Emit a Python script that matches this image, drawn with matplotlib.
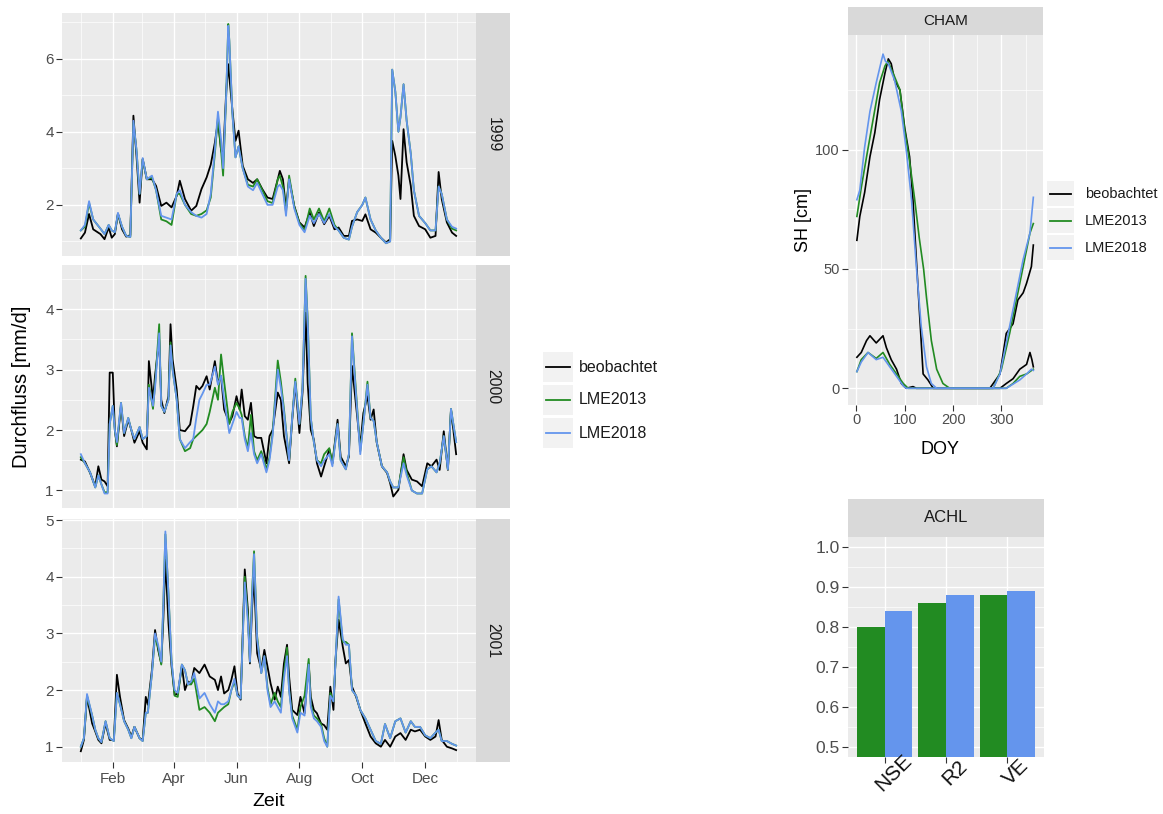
import matplotlib
matplotlib.use('Agg')
import matplotlib.pyplot as plt
from matplotlib.transforms import offset_copy
from matplotlib.patches import Rectangle

plt.rcParams['font.family'] = ['Liberation Sans', 'DejaVu Sans']

# ---------------- data ----------------
series_names = ['beobachtet', 'LME2013', 'LME2018']
series_colors = ['#000000', '#228B22', '#6495ED']

years = ['1999', '2000', '2001']

# day of year (0 = 1 Jan) and daily discharge [mm/d]
days_1999 = [0, 4, 8, 12, 19, 23, 27, 30, 33, 36,
             40, 44, 48, 51, 54, 57, 60, 64, 69, 73,
             78, 83, 88, 93, 96, 101, 107, 112, 117, 122,
             126, 130, 133, 136, 138, 141, 143, 144, 147, 150,
             153, 157, 162, 167, 171, 176, 181, 186, 191, 193,
             196, 199, 202, 207, 212, 217, 222, 226, 231, 236,
             241, 246, 250, 255, 260, 263, 268, 273, 276, 281,
             286, 291, 296, 300, 302, 305, 308, 310, 313, 316,
             320, 323, 328, 334, 339, 344, 347, 350, 355, 360,
             364]
obs_1999 = [1.08, 1.24, 1.75, 1.33, 1.2, 1.06, 1.38, 1.1, 1.2, 1.76,
            1.33, 1.13, 1.17, 4.44, 3.34, 2.06, 3.25, 2.7, 2.7, 2.52,
            1.97, 2.06, 1.93, 2.25, 2.66, 2.16, 1.84, 1.97, 2.43, 2.75,
            3.1, 3.7, 4.3, 3.5, 3.3, 5.1, 5.85, 5.5, 4.6, 3.75,
            4.03, 3.07, 2.7, 2.6, 2.7, 2.43, 2.2, 2.16, 2.7, 2.93,
            2.7, 1.88, 2.7, 1.97, 1.52, 1.38, 1.79, 1.42, 1.79, 1.47,
            1.7, 1.33, 1.38, 1.15, 1.15, 1.56, 1.6, 1.56, 1.74, 1.33,
            1.24, 1.1, 0.97, 1.06, 3.75, 3.34, 2.8, 2.16, 4.07, 3.16,
            2.52, 1.7, 1.42, 1.33, 1.1, 1.15, 2.9, 2.16, 1.52, 1.24,
            1.15]
lme13_1999 = [1.3, 1.4, 2.05, 1.6, 1.35, 1.2, 1.45, 1.3, 1.25, 1.75,
              1.4, 1.15, 1.12, 4.25, 3.5, 2.3, 3.25, 2.7, 2.75, 2.4,
              1.6, 1.55, 1.45, 2.3, 2.3, 2.0, 1.75, 1.7, 1.75, 1.85,
              2.2, 3.4, 4.4, 3.5, 2.8, 5.0, 6.95, 6.5, 4.5, 3.3,
              3.6, 3.0, 2.55, 2.5, 2.7, 2.4, 2.1, 2.05, 2.7, 2.8,
              2.5, 1.8, 2.8, 1.95, 1.5, 1.3, 1.9, 1.6, 1.9, 1.55,
              1.9, 1.45, 1.3, 1.1, 1.05, 1.4, 1.8, 2.0, 2.2, 1.6,
              1.3, 1.1, 0.95, 1.0, 5.7, 5.1, 4.0, 4.4, 5.3, 4.3,
              3.4, 2.4, 1.7, 1.5, 1.3, 1.3, 2.5, 2.3, 1.6, 1.35,
              1.3]
lme18_1999 = [1.3, 1.45, 2.1, 1.6, 1.35, 1.2, 1.45, 1.3, 1.25, 1.78,
              1.4, 1.15, 1.12, 4.3, 3.5, 2.3, 3.28, 2.7, 2.8, 2.4,
              1.7, 1.65, 1.6, 2.3, 2.4, 2.0, 1.8, 1.7, 1.65, 1.75,
              2.3, 3.5, 4.55, 3.8, 3.0, 5.0, 6.9, 6.5, 4.5, 3.3,
              3.6, 3.0, 2.5, 2.4, 2.6, 2.3, 2.0, 2.0, 2.5, 2.55,
              2.4, 1.7, 2.7, 1.9, 1.45, 1.25, 1.7, 1.5, 1.75, 1.5,
              1.75, 1.4, 1.3, 1.1, 1.05, 1.4, 1.8, 2.0, 2.2, 1.6,
              1.3, 1.1, 0.95, 1.0, 5.7, 5.1, 4.0, 4.4, 5.3, 4.3,
              3.4, 2.4, 1.7, 1.5, 1.3, 1.3, 2.5, 2.3, 1.6, 1.4,
              1.35]

days_2000 = [0, 4, 9, 14, 17, 20, 23, 26, 28, 31,
             33, 35, 39, 42, 46, 49, 52, 57, 60, 64,
             66, 70, 72, 76, 78, 81, 85, 87, 89, 93,
             96, 101, 106, 109, 112, 115, 118, 122, 125, 130,
             133, 136, 139, 144, 147, 151, 154, 156, 159, 162,
             165, 168, 171, 175, 180, 183, 186, 191, 194, 197,
             202, 205, 208, 212, 215, 218, 220, 223, 226, 229,
             233, 236, 241, 244, 249, 252, 257, 260, 263, 266,
             271, 274, 278, 281, 284, 287, 292, 297, 300, 303,
             308, 313, 316, 321, 326, 331, 336, 340, 345, 348,
             352, 356, 359, 364]
obs_2000 = [1.51, 1.48, 1.29, 1.07, 1.4, 1.18, 1.15, 1.07, 2.95, 2.95,
            2.0, 1.73, 2.4, 1.9, 2.17, 2.0, 1.79, 1.98, 1.79, 1.68,
            3.14, 2.5, 2.9, 3.5, 2.5, 2.28, 2.56, 3.75, 3.17, 2.67,
            2.0, 1.98, 2.09, 2.39, 2.73, 2.67, 2.73, 2.89, 2.67, 3.14,
            2.78, 2.89, 2.34, 2.12, 2.23, 2.56, 2.34, 2.67, 2.23, 2.17,
            2.45, 1.9, 1.87, 1.87, 1.45, 1.9, 2.0, 2.62, 2.5, 1.9,
            1.45, 2.17, 2.78, 1.95, 2.62, 3.94, 2.78, 2.0, 1.84, 1.45,
            1.23, 1.4, 1.68, 1.45, 2.17, 1.56, 1.4, 1.56, 3.06, 2.56,
            1.73, 2.28, 2.56, 2.17, 2.34, 1.79, 1.4, 1.29, 1.12, 0.9,
            1.01, 1.6, 1.34, 1.18, 1.15, 1.07, 1.45, 1.4, 1.51, 1.34,
            1.98, 1.34, 2.34, 1.6]
lme13_2000 = [1.55, 1.45, 1.3, 1.05, 1.25, 1.1, 0.97, 0.97, 2.1, 2.4,
              2.0, 1.75, 2.45, 1.95, 2.2, 2.0, 1.85, 2.05, 1.85, 1.9,
              2.75, 2.35, 2.75, 3.75, 2.4, 2.3, 2.5, 3.45, 3.0, 2.5,
              1.85, 1.65, 1.7, 1.85, 1.9, 1.95, 2.0, 2.1, 2.3, 2.7,
              2.5, 3.25, 2.8, 2.1, 2.3, 2.45, 2.35, 2.25, 1.9, 1.7,
              2.25, 1.65, 1.5, 1.65, 1.35, 1.55, 1.95, 3.15, 2.8, 2.35,
              1.5, 2.2, 2.85, 2.1, 2.7, 4.55, 3.85, 2.2, 1.8, 1.5,
              1.45, 1.6, 1.7, 1.45, 2.1, 1.5, 1.35, 1.6, 3.6, 2.85,
              1.65, 2.1, 2.8, 2.2, 2.15, 1.8, 1.4, 1.3, 1.15, 1.05,
              1.05, 1.55, 1.3, 1.0, 0.95, 0.95, 1.35, 1.4, 1.3, 1.45,
              1.9, 1.35, 2.35, 1.8]
lme18_2000 = [1.6, 1.45, 1.3, 1.05, 1.25, 1.1, 0.95, 0.95, 2.1, 2.4,
              2.0, 1.8, 2.45, 1.95, 2.2, 2.0, 1.85, 2.05, 1.85, 1.9,
              2.7, 2.4, 2.7, 3.6, 2.4, 2.3, 2.5, 3.4, 3.0, 2.5,
              1.85, 1.7, 1.8, 1.85, 2.2, 2.5, 2.6, 2.75, 2.75, 3.05,
              2.75, 2.9, 2.5, 1.95, 2.1, 2.3, 2.2, 2.2, 1.85, 1.65,
              1.95, 1.6, 1.45, 1.6, 1.3, 1.5, 1.9, 3.0, 2.7, 2.3,
              1.5, 2.2, 2.8, 2.1, 2.7, 4.5, 3.8, 2.2, 1.8, 1.5,
              1.4, 1.5, 1.6, 1.4, 2.1, 1.5, 1.35, 1.6, 3.55, 2.8,
              1.6, 2.1, 2.75, 2.2, 2.15, 1.8, 1.4, 1.3, 1.15, 1.05,
              1.05, 1.45, 1.25, 1.0, 0.95, 0.95, 1.35, 1.4, 1.3, 1.45,
              1.9, 1.35, 2.35, 1.8]

days_2001 = [0, 3, 6, 11, 14, 17, 20, 24, 28, 32,
             35, 38, 42, 46, 49, 52, 57, 60, 63, 65,
             69, 72, 75, 78, 80, 82, 85, 88, 91, 94,
             98, 101, 104, 107, 110, 115, 120, 125, 130, 133,
             136, 139, 143, 146, 149, 152, 155, 159, 162, 164,
             166, 168, 171, 175, 178, 181, 184, 188, 191, 194,
             197, 200, 202, 205, 210, 213, 217, 221, 223, 226,
             229, 233, 236, 239, 242, 245, 247, 250, 254, 257,
             260, 263, 267, 271, 276, 281, 286, 291, 295, 300,
             305, 310, 315, 320, 324, 329, 334, 339, 344, 347,
             350, 355, 360, 364]
obs_2001 = [0.92, 1.12, 1.88, 1.41, 1.27, 1.12, 1.06, 1.41, 1.12, 1.12,
            2.27, 1.88, 1.47, 1.32, 1.18, 1.35, 1.15, 1.12, 1.88, 1.74,
            2.36, 3.06, 2.71, 2.47, 3.24, 4.3, 3.18, 2.42, 1.91, 1.94,
            2.42, 2.0, 2.15, 2.12, 2.39, 2.3, 2.45, 2.24, 2.18, 2.0,
            2.24, 1.94, 2.0, 2.18, 2.42, 1.94, 1.83, 4.13, 3.42, 2.47,
            3.42, 4.0, 2.65, 2.36, 2.71, 2.42, 2.12, 1.83, 2.06, 1.88,
            2.47, 2.8, 2.24, 1.65, 1.56, 1.88, 1.59, 2.47, 1.88, 1.65,
            1.59, 1.41, 1.38, 1.3, 2.06, 1.65, 2.53, 3.24, 2.77, 2.47,
            2.53, 2.06, 1.88, 1.65, 1.41, 1.18, 1.06, 1.0, 1.12, 1.0,
            1.18, 1.24, 1.12, 1.3, 1.27, 1.3, 1.18, 1.12, 1.18, 1.47,
            1.12, 1.0, 0.97, 0.94]
lme13_2001 = [1.0, 1.15, 1.9, 1.55, 1.3, 1.15, 1.08, 1.45, 1.15, 1.1,
              1.95, 1.75, 1.45, 1.3, 1.15, 1.35, 1.15, 1.1, 1.6, 1.6,
              2.3, 2.95, 2.75, 2.45, 3.5, 4.75, 3.7, 2.5, 1.9, 1.88,
              2.45, 2.35, 2.1, 2.1, 2.2, 1.65, 1.7, 1.6, 1.45, 1.6,
              1.65, 1.7, 1.75, 2.0, 2.15, 1.9, 1.85, 4.0, 3.3, 2.5,
              3.7, 4.45, 2.95, 2.3, 2.6, 2.05, 1.75, 1.95, 1.8, 1.7,
              2.3, 2.75, 2.0, 1.55, 1.3, 1.7, 1.9, 2.55, 1.75, 1.55,
              1.5, 1.4, 1.15, 1.0, 1.95, 1.8, 2.5, 3.6, 2.85, 2.85,
              2.8, 2.0, 1.9, 1.65, 1.5, 1.3, 1.1, 1.05, 1.4, 1.15,
              1.45, 1.5, 1.25, 1.45, 1.35, 1.35, 1.2, 1.15, 1.25, 1.3,
              1.1, 1.1, 1.05, 1.02]
lme18_2001 = [1.0, 1.15, 1.93, 1.55, 1.3, 1.15, 1.08, 1.45, 1.15, 1.1,
              1.95, 1.75, 1.45, 1.3, 1.15, 1.35, 1.15, 1.1, 1.6, 1.6,
              2.3, 3.0, 2.8, 2.5, 3.5, 4.8, 3.7, 2.5, 2.0, 1.95,
              2.45, 2.35, 2.1, 2.15, 2.3, 1.85, 1.95, 1.75, 1.6, 1.8,
              1.75, 1.75, 1.8, 2.0, 2.2, 1.9, 1.85, 3.9, 3.2, 2.5,
              3.6, 4.4, 2.9, 2.3, 2.6, 2.0, 1.7, 1.8, 1.7, 1.6,
              2.2, 2.6, 2.0, 1.5, 1.25, 1.6, 1.55, 2.45, 1.7, 1.5,
              1.45, 1.35, 1.1, 1.0, 1.9, 1.8, 2.5, 3.65, 2.9, 2.8,
              2.8, 2.0, 1.9, 1.65, 1.5, 1.3, 1.1, 1.05, 1.4, 1.15,
              1.45, 1.5, 1.25, 1.45, 1.35, 1.35, 1.2, 1.15, 1.25, 1.3,
              1.1, 1.1, 1.05, 1.02]

month_ticks = [31, 90, 151, 212, 273, 334]
month_labels = ['Feb', 'Apr', 'Jun', 'Aug', 'Oct', 'Dec']
month_minor = [0, 59, 120, 181, 243, 304, 365]

# snow height CHAM [cm], two winters per series (high / low)
cham_obs_hi_doy = [1, 7, 17, 28, 38, 48, 59, 66, 72, 79, 90, 100, 110, 117, 124, 131, 138, 148, 159,
                   276, 297, 310, 324, 334, 345, 352, 362, 366]
cham_obs_hi = [62, 72, 82, 97, 107, 121, 132, 138, 136, 129, 125, 109, 97, 79, 54, 30, 6, 3.5, 0,
               0, 6, 23, 27, 37, 40, 44, 51, 60]
cham_l13_hi_doy = [1, 10, 21, 34, 48, 59, 65, 76, 90, 100, 110, 120, 130, 139, 145, 155, 166, 179, 193,
                   283, 300, 317, 331, 345, 359, 366]
cham_l13_hi = [72, 84, 97, 112, 128, 135, 137, 132, 125, 108, 95, 80, 63, 50, 38, 20, 8, 2, 0,
               0, 8, 23, 37, 51, 65, 69]
cham_l18_hi_doy = [1, 7, 17, 28, 41, 55, 60, 66, 79, 93, 103, 114, 124, 134, 145, 155, 166,
                   283, 297, 317, 331, 345, 359, 366]
cham_l18_hi = [79, 83, 101, 116, 128, 140, 137, 136, 129, 116, 100, 79, 51, 26, 9, 2, 0,
               0, 6, 26, 40, 54, 65, 80]
cham_obs_lo_doy = [1, 10, 21, 28, 41, 55, 62, 72, 83, 93, 103, 117, 124, 297, 310, 324, 338, 352, 359, 363, 366]
cham_obs_lo = [13, 15, 20, 22, 19, 22, 17, 12, 8, 2, 0, 0.7, 0, 0, 2, 4, 8, 10, 15, 12, 9]
cham_l13_lo_doy = [1, 10, 24, 41, 55, 69, 83, 97, 107, 310, 324, 338, 352, 366]
cham_l13_lo = [7, 12, 15, 12.5, 15, 10, 6, 2, 0, 0, 2, 5, 6, 8]
cham_l18_lo_doy = [1, 10, 24, 41, 55, 69, 83, 97, 103, 310, 338, 352, 362, 366]
cham_l18_lo = [7, 11, 15, 12, 13, 9, 5, 1, 0, 0, 3.5, 6, 8, 7.5]

# performance ACHL
metrics = ['NSE', 'R2', 'VE']
achl_lme2013 = [0.80, 0.86, 0.88]
achl_lme2018 = [0.84, 0.88, 0.89]

# ---------------- figure ----------------
W, H = 1163, 814
fig = plt.figure(figsize=(W / 100, H / 100), dpi=100)
fig.patch.set_facecolor('white')


def px_axes(x0, y0, x1, y1):
    return fig.add_axes([x0 / W, 1 - y1 / H, (x1 - x0) / W, (y1 - y0) / H])


def gg_panel(ax, xlim, ylim, xmaj, xmin, ymaj, ymin, lsize):
    ax.set_facecolor('#EBEBEB')
    for s in ax.spines.values():
        s.set_visible(False)
    ax.set_xlim(xlim)
    ax.set_ylim(ylim)
    ax.set_xticks(xmaj)
    ax.set_xticks(xmin, minor=True)
    ax.set_yticks(ymaj)
    ax.set_yticks(ymin, minor=True)
    ax.grid(which='major', color='white', lw=1.0)
    ax.grid(which='minor', color='white', lw=0.5)
    ax.set_axisbelow(True)
    ax.tick_params(which='minor', length=0)
    ax.tick_params(which='major', length=4, width=0.8, color='#333333',
                   labelcolor='#4D4D4D', labelsize=lsize, pad=2)


def strip(x0, y0, x1, y1, text, rot, size):
    s = px_axes(x0, y0, x1, y1)
    s.set_facecolor('#D9D9D9')
    s.set_xticks([])
    s.set_yticks([])
    for sp in s.spines.values():
        sp.set_visible(False)
    s.text(0.5, 0.5, text, rotation=rot, ha='center', va='center',
           fontsize=size, color='#1A1A1A', transform=s.transAxes)


# left: discharge per year
year_data = [(days_1999, [obs_1999, lme13_1999, lme18_1999]),
             (days_2000, [obs_2000, lme13_2000, lme18_2000]),
             (days_2001, [obs_2001, lme13_2001, lme18_2001])]
panel_rows = [(13, 256), (265, 508), (519, 762)]
ylims = [(0.6, 7.25), (0.71, 4.73), (0.73, 5.02)]
ymajors = [[2, 4, 6], [1, 2, 3, 4], [1, 2, 3, 4, 5]]
yminors = [[1, 3, 5, 7], [1.5, 2.5, 3.5, 4.5], [1.5, 2.5, 3.5, 4.5]]

for i, (days, vals) in enumerate(year_data):
    y0, y1 = panel_rows[i]
    ax = px_axes(62, y0, 476, y1)
    gg_panel(ax, (-18.25, 383.25), ylims[i], month_ticks, month_minor,
             ymajors[i], yminors[i], 11)
    for v, c in zip(vals, series_colors):
        ax.plot(days, v, color=c, lw=1.3)
    if i < 2:
        ax.tick_params(which='both', bottom=False, labelbottom=False)
    else:
        ax.set_xticklabels(month_labels)
        ax.tick_params(axis='x', pad=3)
    strip(476, y0, 510, y1, years[i], 270, 11.3)

# right top: snow height CHAM
axc = px_axes(848, 35, 1043, 405)
gg_panel(axc, (-17.4, 386), (-7, 148), [0, 100, 200, 300], [50, 150, 250, 350],
         [0, 50, 100], [25, 75, 125], 10.5)
cham_lines = [((cham_obs_hi_doy, cham_obs_hi), (cham_obs_lo_doy, cham_obs_lo)),
              ((cham_l13_hi_doy, cham_l13_hi), (cham_l13_lo_doy, cham_l13_lo)),
              ((cham_l18_hi_doy, cham_l18_hi), (cham_l18_lo_doy, cham_l18_lo))]
for lines, c in zip(cham_lines, series_colors):
    for xs, ys in lines:
        axc.plot(xs, ys, color=c, lw=1.2)
strip(848, 7, 1043, 35, 'CHAM', 0, 11)

# right bottom: ACHL performance
axa = px_axes(848, 537, 1044, 757)
gg_panel(axa, (0.4, 3.6), (0.474, 1.026), [1, 2, 3], [],
         [0.5, 0.6, 0.7, 0.8, 0.9, 1.0], [0.55, 0.65, 0.75, 0.85, 0.95], 12.5)
axa.grid(which='minor', axis='x', visible=False)
pos = [1, 2, 3]
axa.bar([p - 0.225 for p in pos], achl_lme2013, width=0.45, color=series_colors[1], zorder=2)
axa.bar([p + 0.225 for p in pos], achl_lme2018, width=0.45, color=series_colors[2], zorder=2)
axa.set_yticklabels(['%.1f' % t for t in [0.5, 0.6, 0.7, 0.8, 0.9, 1.0]])
axa.set_xticklabels([])
lab_tr = offset_copy(axa.get_xaxis_transform(), fig=fig, x=8.5, y=-15.5, units='dots')
for p, m in zip(pos, metrics):
    axa.text(p, 0, m, transform=lab_tr, rotation=45, ha='center', va='center',
             rotation_mode='anchor', fontsize=15, color='#111111')
strip(848, 499, 1044, 537, 'ACHL', 0, 12)

# overlay for titles and legends (pixel coordinates)
ov = fig.add_axes([0, 0, 1, 1])
ov.set_xlim(0, W)
ov.set_ylim(H, 0)
ov.axis('off')

ov.text(22, 387, 'Durchfluss [mm/d]', rotation=90, ha='center', va='center', fontsize=14.5)
ov.text(269, 802, 'Zeit', ha='center', va='center', fontsize=14)
ov.text(803, 220, 'SH [cm]', rotation=90, ha='center', va='center', fontsize=13)
ov.text(940, 450, 'DOY', ha='center', va='center', fontsize=13)


def draw_legend(x0, y0, key_w, key_h, pitch, tx, fsize):
    for k, (name, c) in enumerate(zip(series_names, series_colors)):
        top = y0 + k * pitch
        ov.add_patch(Rectangle((x0, top), key_w, key_h, facecolor='#F2F2F2', edgecolor='none'))
        yc = top + key_h / 2
        ov.plot([x0 + 3, x0 + key_w - 3], [yc, yc], color=c, lw=1.3)
        ov.text(tx, yc, name, ha='left', va='center', fontsize=fsize, color='#1A1A1A')


draw_legend(543, 352, 30, 30, 33, 579, 11.5)
draw_legend(1047, 181, 27, 25, 27.2, 1085, 10.5)

fig.savefig('out.png', dpi=100)
